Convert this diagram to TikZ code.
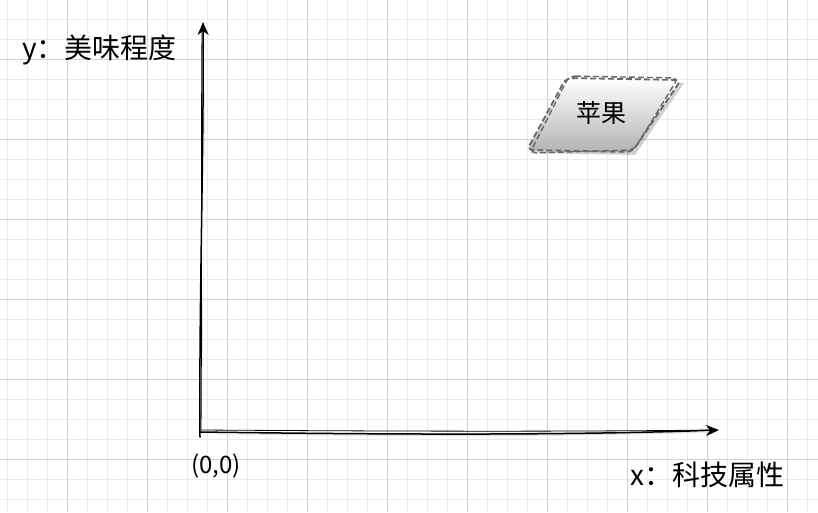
\documentclass[tikz,border=0pt]{standalone}
\usepackage{fontspec}
\setmainfont{Noto Sans CJK SC}
\usetikzlibrary{arrows.meta,shadows,calc}
\definecolor{gridminor}{HTML}{EBEBEB}
\definecolor{gridmajor}{HTML}{D2D2D2}
\definecolor{boxedge}{HTML}{666666}
\tikzset{
  axisline/.style={line width=1.5pt, black, line cap=round, -{Stealth[length=13pt,width=11pt,inset=4pt]}},
  sketchline/.style={line width=0.8pt, black, line cap=round},
  labeltext/.style={font=\fontsize{28}{32}\selectfont, inner sep=0pt, anchor=west},
  boxtext/.style={font=\fontsize{25}{28}\selectfont, inner sep=0pt},
  boxedgeline/.style={draw=boxedge, line width=1.8pt, dash pattern=on 6pt off 3pt, rounded corners=6pt},
}
\begin{document}
\begin{tikzpicture}[x=1pt,y=-1pt]
\useasboundingbox (0,0) rectangle (818,512);
\fill[white] (0,0) rectangle (818,512);
% grid
\foreach \gx in {7,27,...,807} \draw[gridminor, line width=0.6pt] (\gx,0) -- (\gx,512);
\foreach \gy in {19,39,...,499} \draw[gridminor, line width=0.6pt] (0,\gy) -- (818,\gy);
\foreach \gx in {67,147,...,807} \draw[gridmajor, line width=0.8pt] (\gx,0) -- (\gx,512);
\foreach \gy in {59,139,...,499} \draw[gridmajor, line width=0.8pt] (0,\gy) -- (818,\gy);

% axes
\coordinate (O) at (200,437);
\coordinate (Ytop) at (203,22);
\coordinate (Xend) at (719,430);
\coordinate (Xstart) at (200,432);
\draw[axisline, drop shadow={shadow xshift=2pt, shadow yshift=-2pt, opacity=0.25}] (O) .. controls (199,300) and (204,150) .. (Ytop);
\draw[sketchline] (201,432) .. controls (202,300) and (201,150) .. (202,30);
\draw[axisline, drop shadow={shadow xshift=2pt, shadow yshift=-2pt, opacity=0.25}] (Xstart) .. controls (350,434) and (550,436) .. (Xend);
\draw[sketchline] (202,430) .. controls (350,431) and (550,432) .. (712,430);

% parallelogram
\coordinate (p1) at (566,78);
\coordinate (p2) at (681,80);
\coordinate (p3) at (632,152);
\coordinate (p4) at (527,150);
\fill[black, opacity=0.18] ($(p1)+(3,3)$) -- ($(p2)+(3,3)$) -- ($(p3)+(3,3)$) -- ($(p4)+(3,3)$) -- cycle;
\shade[top color=white, bottom color=black!30, rounded corners=6pt] (p1) -- (p2) -- (p3) -- (p4) -- cycle;
\draw[boxedgeline] (p1) -- (p2) -- (p3) -- (p4) -- cycle;
\draw[boxedgeline, line width=1.4pt] (569,76) -- (678,78) -- (634,150) -- (530,153) -- cycle;
\node[boxtext] (apple) at (601,113) {苹果};

% labels
\node[labeltext] (ylab) at (22,50) {y：美味程度};
\node[labeltext] (xlab) at (630,475) {x：科技属性};
\node[font=\fontsize{24}{28}\selectfont\itshape, inner sep=0pt, anchor=west] (origin) at (191,466) {(0,0)};
\end{tikzpicture}
\end{document}
